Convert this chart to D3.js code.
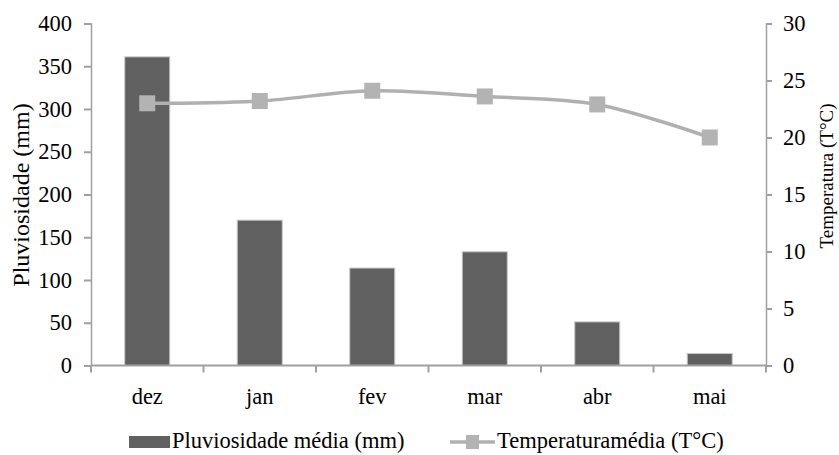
<!DOCTYPE html>
<html>
<head>
<meta charset="utf-8">
<script src="https://cdn.jsdelivr.net/npm/d3@7"></script>
<style>
  html, body { margin: 0; padding: 0; background: #ffffff; }
  svg { display: block; }
</style>
</head>
<body>
<svg id="chart" width="839" height="455"></svg>
<script>
// Monthly averages
const months = ["dez", "jan", "fev", "mar", "abr", "mai"];
const rainfall = [361, 170, 114, 133, 51, 14];          // mm
const temperature = [23.0, 23.2, 24.1, 23.6, 22.9, 20.0]; // °C
const rainTicks = [0, 50, 100, 150, 200, 250, 300, 350, 400];
const tempTicks = [0, 5, 10, 15, 20, 25, 30];

const svg = d3.select("#chart");
const plotLeft = 91, plotRight = 766, plotTop = 23.5, plotBottom = 365.5;
const axisColor = "#a0a0a0";
const fontSize = "22.5px";
const serif = '"Liberation Serif", "Times New Roman", serif';

const x = d3.scaleBand().domain(months).range([plotLeft, plotRight]).paddingInner(0.6).paddingOuter(0.3);
const yRain = d3.scaleLinear().domain([0, 400]).range([plotBottom, plotTop]);
const yTemp = d3.scaleLinear().domain([0, 30]).range([plotBottom, plotTop]);

// Bars
svg.append("g").selectAll("rect")
  .data(months)
  .join("rect")
  .attr("x", d => x(d))
  .attr("width", x.bandwidth())
  .attr("y", (d, i) => yRain(rainfall[i]))
  .attr("height", (d, i) => plotBottom - yRain(rainfall[i]))
  .attr("fill", "#606060")
  .attr("stroke", "#c8c8c8")
  .attr("stroke-width", 1);

// Left axis
const gL = svg.append("g").attr("transform", `translate(${plotLeft},0)`)
  .call(d3.axisLeft(yRain).tickValues(rainTicks).tickSize(7).tickPadding(12));
// Right axis
const gR = svg.append("g").attr("transform", `translate(${plotRight},0)`)
  .call(d3.axisRight(yTemp).tickValues(tempTicks).tickSize(6).tickPadding(11));
// Bottom axis: ticks sit on category boundaries
const boundaries = d3.range(months.length + 1).map(i => plotLeft + i * (plotRight - plotLeft) / months.length);
const gB = svg.append("g").attr("transform", `translate(0,${plotBottom})`);
gB.append("line").attr("x1", plotLeft).attr("x2", plotRight).attr("stroke", axisColor).attr("stroke-width", 2);
gB.selectAll("line.tick").data(boundaries).join("line").attr("class", "tick")
  .attr("x1", d => d).attr("x2", d => d).attr("y1", 0).attr("y2", 7)
  .attr("stroke", axisColor).attr("stroke-width", 2);
gB.selectAll("text").data(months).join("text")
  .attr("x", d => x(d) + x.bandwidth() / 2)
  .attr("y", 38)
  .attr("text-anchor", "middle")
  .text(d => d);

[gL, gR].forEach(g => {
  g.select(".domain").attr("stroke", axisColor).attr("stroke-width", 1.5);
  g.selectAll(".tick line").attr("stroke", axisColor).attr("stroke-width", 2);
});

// Temperature line
const cx = d => x(d) + x.bandwidth() / 2;
const line = d3.line()
  .x((d, i) => cx(months[i]))
  .y(d => yTemp(d))
  .curve(d3.curveCatmullRom.alpha(0.5));
svg.append("path")
  .datum(temperature)
  .attr("d", line)
  .attr("fill", "none")
  .attr("stroke", "#b0b0b0")
  .attr("stroke-width", 3.5);

const ms = 16;
svg.append("g").selectAll("rect")
  .data(temperature)
  .join("rect")
  .attr("x", (d, i) => cx(months[i]) - ms / 2)
  .attr("y", d => yTemp(d) - ms / 2)
  .attr("width", ms).attr("height", ms)
  .attr("fill", "#b3b3b3");

// Axis titles
const titleLeft = svg.append("text")
  .attr("transform", "translate(29,195) rotate(-90)")
  .attr("text-anchor", "middle")
  .text("Pluviosidade (mm)");
const titleRight = svg.append("text")
  .attr("transform", "translate(833,176) rotate(-90)")
  .attr("text-anchor", "middle")
  .text("Temperatura (T°C)");

// Legend
const lg = svg.append("g");
lg.append("rect").attr("x", 129).attr("y", 436).attr("width", 41).attr("height", 12).attr("fill", "#606060");
lg.append("text").attr("x", 172).attr("y", 448).text("Pluviosidade média (mm)");
lg.append("line").attr("x1", 450).attr("x2", 495).attr("y1", 442).attr("y2", 442)
  .attr("stroke", "#b0b0b0").attr("stroke-width", 3.5);
lg.append("rect").attr("x", 466).attr("y", 435).attr("width", 13).attr("height", 14).attr("fill", "#b3b3b3");
lg.append("text").attr("x", 497).attr("y", 448).text("Temperaturamédia (T°C)");

// Shared text styling
svg.selectAll("text")
  .style("font-family", serif)
  .style("font-size", fontSize)
  .style("fill", "#000");
titleLeft.style("font-size", "24px");
titleRight.style("font-size", "19px");
</script>
</body>
</html>
